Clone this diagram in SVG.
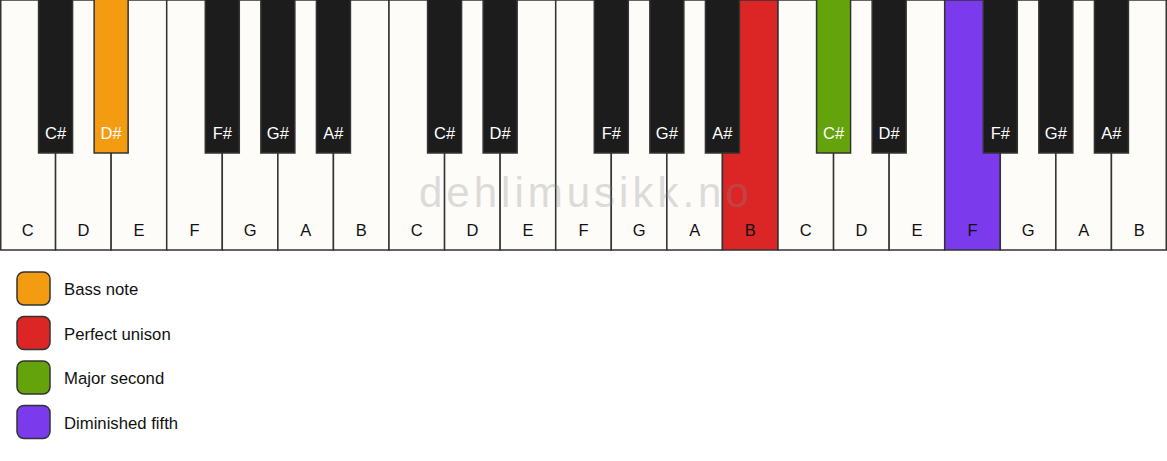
<svg xmlns="http://www.w3.org/2000/svg" width="1167" height="461" viewBox="0 0 1167 461">
<style>
.w{fill:#fdfcf9;stroke:#333;stroke-width:1.5}
.b{fill:#1c1c1c;stroke:#333;stroke-width:1.5}
.lbl{font-family:"Liberation Sans",Arial,sans-serif;font-size:16.5px;text-anchor:middle;fill:#111}
.lw{fill:#fff}
.leg{font-family:"Liberation Sans",Arial,sans-serif;font-size:16.7px;fill:#111}
.sw{stroke:#333;stroke-width:1.5}
</style>
<rect x="0" y="0" width="1167" height="461" fill="#fff"/>
<g id="white-keys">
<g id="w0"><rect class="w" x="0.75" y="0" width="54.82" height="250"/><text class="lbl" x="27.79" y="236">C</text></g>
<g id="w1"><rect class="w" x="55.57" y="0" width="55.57" height="250"/><text class="lbl" x="83.36" y="236">D</text></g>
<g id="w2"><rect class="w" x="111.14" y="0" width="55.57" height="250"/><text class="lbl" x="138.93" y="236">E</text></g>
<g id="w3"><rect class="w" x="166.71" y="0" width="55.57" height="250"/><text class="lbl" x="194.5" y="236">F</text></g>
<g id="w4"><rect class="w" x="222.29" y="0" width="55.57" height="250"/><text class="lbl" x="250.07" y="236">G</text></g>
<g id="w5"><rect class="w" x="277.86" y="0" width="55.57" height="250"/><text class="lbl" x="305.64" y="236">A</text></g>
<g id="w6"><rect class="w" x="333.43" y="0" width="55.57" height="250"/><text class="lbl" x="361.21" y="236">B</text></g>
<g id="w7"><rect class="w" x="389" y="0" width="55.57" height="250"/><text class="lbl" x="416.79" y="236">C</text></g>
<g id="w8"><rect class="w" x="444.57" y="0" width="55.57" height="250"/><text class="lbl" x="472.36" y="236">D</text></g>
<g id="w9"><rect class="w" x="500.14" y="0" width="55.57" height="250"/><text class="lbl" x="527.93" y="236">E</text></g>
<g id="w10"><rect class="w" x="555.71" y="0" width="55.57" height="250"/><text class="lbl" x="583.5" y="236">F</text></g>
<g id="w11"><rect class="w" x="611.29" y="0" width="55.57" height="250"/><text class="lbl" x="639.07" y="236">G</text></g>
<g id="w12"><rect class="w" x="666.86" y="0" width="55.57" height="250"/><text class="lbl" x="694.64" y="236">A</text></g>
<g id="w13"><rect class="w" x="722.43" y="0" width="55.57" height="250" style="fill:#dc2626"/><text class="lbl" x="750.21" y="236">B</text></g>
<g id="w14"><rect class="w" x="778" y="0" width="55.57" height="250"/><text class="lbl" x="805.79" y="236">C</text></g>
<g id="w15"><rect class="w" x="833.57" y="0" width="55.57" height="250"/><text class="lbl" x="861.36" y="236">D</text></g>
<g id="w16"><rect class="w" x="889.14" y="0" width="55.57" height="250"/><text class="lbl" x="916.93" y="236">E</text></g>
<g id="w17"><rect class="w" x="944.71" y="0" width="55.57" height="250" style="fill:#7c3aed"/><text class="lbl" x="972.5" y="236">F</text></g>
<g id="w18"><rect class="w" x="1000.29" y="0" width="55.57" height="250"/><text class="lbl" x="1028.07" y="236">G</text></g>
<g id="w19"><rect class="w" x="1055.86" y="0" width="55.57" height="250"/><text class="lbl" x="1083.64" y="236">A</text></g>
<g id="w20"><rect class="w" x="1111.43" y="0" width="54.82" height="250"/><text class="lbl" x="1139.21" y="236">B</text></g>
</g>
<text x="419" y="207" font-family="'Liberation Sans',Arial,sans-serif" font-size="42" letter-spacing="4" fill="#888" opacity="0.28">dehlimusikk.no</text>
<g id="black-keys">
<g id="b1"><rect class="b" x="38.57" y="-1" width="34" height="154"/><text class="lbl lw" x="55.57" y="139">C#</text></g>
<g id="b2"><rect class="b" x="94.14" y="-1" width="34" height="154" style="fill:#f39c12"/><text class="lbl lw" x="111.14" y="139">D#</text></g>
<g id="b4"><rect class="b" x="205.29" y="-1" width="34" height="154"/><text class="lbl lw" x="222.29" y="139">F#</text></g>
<g id="b5"><rect class="b" x="260.86" y="-1" width="34" height="154"/><text class="lbl lw" x="277.86" y="139">G#</text></g>
<g id="b6"><rect class="b" x="316.43" y="-1" width="34" height="154"/><text class="lbl lw" x="333.43" y="139">A#</text></g>
<g id="b8"><rect class="b" x="427.57" y="-1" width="34" height="154"/><text class="lbl lw" x="444.57" y="139">C#</text></g>
<g id="b9"><rect class="b" x="483.14" y="-1" width="34" height="154"/><text class="lbl lw" x="500.14" y="139">D#</text></g>
<g id="b11"><rect class="b" x="594.29" y="-1" width="34" height="154"/><text class="lbl lw" x="611.29" y="139">F#</text></g>
<g id="b12"><rect class="b" x="649.86" y="-1" width="34" height="154"/><text class="lbl lw" x="666.86" y="139">G#</text></g>
<g id="b13"><rect class="b" x="705.43" y="-1" width="34" height="154"/><text class="lbl lw" x="722.43" y="139">A#</text></g>
<g id="b15"><rect class="b" x="816.57" y="-1" width="34" height="154" style="fill:#65a30d"/><text class="lbl lw" x="833.57" y="139">C#</text></g>
<g id="b16"><rect class="b" x="872.14" y="-1" width="34" height="154"/><text class="lbl lw" x="889.14" y="139">D#</text></g>
<g id="b18"><rect class="b" x="983.29" y="-1" width="34" height="154"/><text class="lbl lw" x="1000.29" y="139">F#</text></g>
<g id="b19"><rect class="b" x="1038.86" y="-1" width="34" height="154"/><text class="lbl lw" x="1055.86" y="139">G#</text></g>
<g id="b20"><rect class="b" x="1094.43" y="-1" width="34" height="154"/><text class="lbl lw" x="1111.43" y="139">A#</text></g>
</g>
<g id="legend">
<g id="leg-bass"><rect class="sw" x="17" y="272" width="33" height="33" rx="7" fill="#f39c12"/><text class="leg" x="64" y="295">Bass note</text></g>
<g id="leg-unison"><rect class="sw" x="17" y="316.5" width="33" height="33" rx="7" fill="#dc2626"/><text class="leg" x="64" y="339.5">Perfect unison</text></g>
<g id="leg-second"><rect class="sw" x="17" y="361" width="33" height="33" rx="7" fill="#65a30d"/><text class="leg" x="64" y="384">Major second</text></g>
<g id="leg-fifth"><rect class="sw" x="17" y="405.5" width="33" height="33" rx="7" fill="#7c3aed"/><text class="leg" x="64" y="428.5">Diminished fifth</text></g>
</g>
</svg>
